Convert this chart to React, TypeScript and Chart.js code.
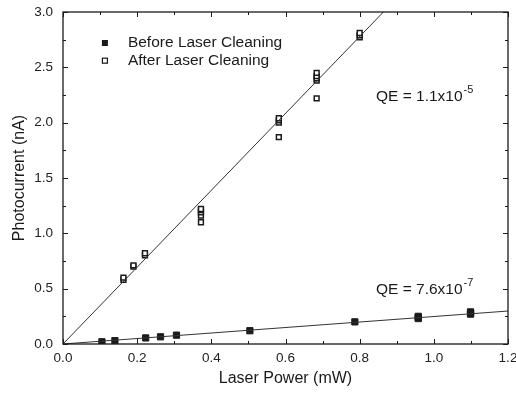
import React, { useEffect, useRef } from "react";
import { Chart, registerables } from "chart.js";

Chart.register(...registerables);

// Before laser cleaning (filled squares)
const beforeX = [0.105, 0.14, 0.223, 0.263, 0.306, 0.504, 0.787, 0.958, 0.958, 0.958, 1.099, 1.099, 1.099];
const beforeY = [0.02, 0.03, 0.055, 0.065, 0.08, 0.12, 0.2, 0.23, 0.24, 0.25, 0.27, 0.28, 0.29];

// After laser cleaning (open squares)
const afterX = [0.163, 0.163, 0.19, 0.19, 0.221, 0.221, 0.372, 0.372, 0.372, 0.372, 0.372, 0.582, 0.582, 0.582, 0.582, 0.684, 0.684, 0.684, 0.684, 0.684, 0.8, 0.8, 0.8];
const afterY = [0.58, 0.6, 0.70, 0.71, 0.80, 0.82, 1.10, 1.16, 1.19, 1.21, 1.22, 1.87, 2.0, 2.02, 2.04, 2.22, 2.38, 2.40, 2.42, 2.45, 2.77, 2.79, 2.81];

// Linear fits
const fitAfterX = [0, 0.864];
const fitAfterY = [0, 3.0];
const fitBeforeX = [0, 1.2];
const fitBeforeY = [0, 0.298];

const xTickValues = [0, 0.2, 0.4, 0.6, 0.8, 1.0, 1.2];
const yTickValues = [0, 0.5, 1.0, 1.5, 2.0, 2.5, 3.0];
const legendLabels = ["Before Laser Cleaning", "After Laser Cleaning"];
const qeLabels = [
  { base: "QE = 1.1x10", exp: "-5", x: 0.844, y: 2.23 },
  { base: "QE = 7.6x10", exp: "-7", x: 0.844, y: 0.49 },
];

const FONT = "'Liberation Sans', Arial, sans-serif";
const INK = "#1a1a1a";

const toPts = (xs: number[], ys: number[]) => xs.map((x, i) => ({ x, y: ys[i] }));

const decorPlugin = {
  id: "decor",
  afterDraw(chart: any) {
    const { ctx, chartArea: a, scales } = chart;
    const xs = scales.x;
    const ys = scales.y;
    ctx.save();
    ctx.strokeStyle = INK;
    ctx.lineWidth = 1.3;
    ctx.strokeRect(a.left, a.top, a.right - a.left, a.bottom - a.top);
    ctx.lineWidth = 1;
    for (let i = 0; i <= 12; i++) {
      const v = i / 10;
      const p = Math.round(xs.getPixelForValue(v)) + 0.5;
      const len = i % 2 === 0 ? 5 : 3;
      ctx.beginPath();
      ctx.moveTo(p, a.bottom);
      ctx.lineTo(p, a.bottom - len);
      ctx.moveTo(p, a.top);
      ctx.lineTo(p, a.top + len);
      ctx.stroke();
    }
    for (let i = 0; i <= 12; i++) {
      const v = i * 0.25;
      const p = Math.round(ys.getPixelForValue(v)) + 0.5;
      const len = i % 2 === 0 ? 5 : 3;
      ctx.beginPath();
      ctx.moveTo(a.left, p);
      ctx.lineTo(a.left + len, p);
      ctx.moveTo(a.right, p);
      ctx.lineTo(a.right - len, p);
      ctx.stroke();
    }
    ctx.fillStyle = INK;
    ctx.font = `16px ${FONT}`;
    ctx.textAlign = "center";
    ctx.textBaseline = "middle";
    ctx.fillText("Laser Power (mW)", (a.left + a.right) / 2, 379);
    ctx.save();
    ctx.translate(20, (a.top + a.bottom) / 2);
    ctx.rotate(-Math.PI / 2);
    ctx.fillText("Photocurrent (nA)", 0, 0);
    ctx.restore();
    ctx.textAlign = "left";
    ctx.font = `15.5px ${FONT}`;
    const lx = xs.getPixelForValue(0.113);
    const ly0 = ys.getPixelForValue(2.72);
    const ly1 = ys.getPixelForValue(2.56);
    ctx.fillRect(lx - 3, ly0 - 3, 6, 6);
    ctx.lineWidth = 1.2;
    ctx.strokeRect(lx - 2.5, ly1 - 2.5, 5, 5);
    ctx.fillText(legendLabels[0], lx + 23, ly0);
    ctx.fillText(legendLabels[1], lx + 23, ly1);
    for (const q of qeLabels) {
      const px = xs.getPixelForValue(q.x);
      const py = ys.getPixelForValue(q.y);
      ctx.font = `15.5px ${FONT}`;
      ctx.fillText(q.base, px, py);
      const w = ctx.measureText(q.base).width;
      ctx.font = `11px ${FONT}`;
      ctx.fillText(q.exp, px + w + 1, py - 7);
    }
    ctx.restore();
  },
};

export default function App() {
  const ref = useRef<HTMLCanvasElement>(null);
  useEffect(() => {
    if (!ref.current) return;
    const chart = new Chart(ref.current, {
      type: "scatter",
      data: {
        datasets: [
          {
            type: "line",
            data: toPts(fitAfterX, fitAfterY),
            borderColor: "#333",
            borderWidth: 1,
            pointRadius: 0,
            fill: false,
          } as any,
          {
            type: "line",
            data: toPts(fitBeforeX, fitBeforeY),
            borderColor: "#333",
            borderWidth: 1,
            pointRadius: 0,
            fill: false,
          } as any,
          {
            label: legendLabels[1],
            data: toPts(afterX, afterY),
            pointStyle: "rect",
            pointRadius: 3.4,
            backgroundColor: "#fff",
            borderColor: INK,
            borderWidth: 1.5,
          },
          {
            label: legendLabels[0],
            data: toPts(beforeX, beforeY),
            pointStyle: "rect",
            pointRadius: 4.4,
            backgroundColor: INK,
            borderColor: INK,
            borderWidth: 1,
          },
        ],
      },
      options: {
        responsive: false,
        animation: false,
        layout: { padding: { top: 12, right: 8, left: 0, bottom: 0 } },
        plugins: { legend: { display: false }, tooltip: { enabled: false } },
        scales: {
          x: {
            type: "linear",
            min: 0,
            max: 1.2,
            grid: { display: false, drawTicks: false },
            border: { display: false },
            afterFit: (s: any) => { s.height = 50; s.paddingLeft = 0; s.paddingRight = 0; },
            afterBuildTicks: (s: any) => { s.ticks = xTickValues.map((v) => ({ value: v })); },
            ticks: {
              padding: 6,
              color: "#222",
              font: { family: FONT, size: 13.5 },
              callback: (v: any) => Number(v).toFixed(1),
            },
          },
          y: {
            type: "linear",
            min: 0,
            max: 3.0,
            grid: { display: false, drawTicks: false },
            border: { display: false },
            afterFit: (s: any) => { s.width = 63; s.paddingTop = 0; s.paddingBottom = 0; },
            afterBuildTicks: (s: any) => { s.ticks = yTickValues.map((v) => ({ value: v })); },
            ticks: {
              padding: 10,
              color: "#222",
              font: { family: FONT, size: 13.5 },
              callback: (v: any) => Number(v).toFixed(1),
            },
          },
        },
      },
      plugins: [decorPlugin],
    });
    return () => chart.destroy();
  }, []);
  return (
    <div style={{ position: "fixed", left: 0, top: 0, width: 516, height: 394, background: "#fff" }}>
      <canvas ref={ref} width={516} height={394} />
    </div>
  );
}
